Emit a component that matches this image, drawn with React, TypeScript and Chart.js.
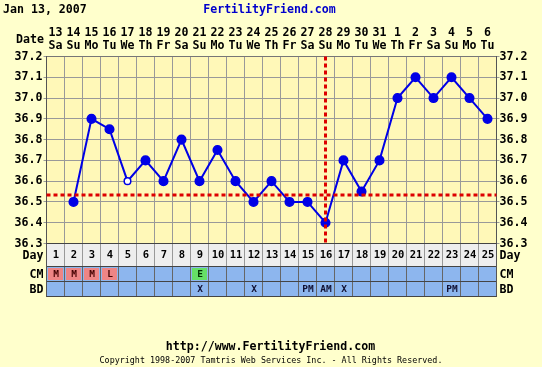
import React, { useEffect, useRef } from 'react';
import { Chart, registerables } from 'chart.js';

Chart.register(...registerables);

const headerDate = 'Jan 13, 2007';
const siteTitle = 'FertilityFriend.com';
const footerUrl = 'http://www.FertilityFriend.com';
const copyright = 'Copyright 1998-2007 Tamtris Web Services Inc. - All Rights Reserved.';

const cycleDays = ['1', '2', '3', '4', '5', '6', '7', '8', '9', '10', '11', '12', '13', '14', '15', '16', '17', '18', '19', '20', '21', '22', '23', '24', '25'];
const dates = ['13', '14', '15', '16', '17', '18', '19', '20', '21', '22', '23', '24', '25', '26', '27', '28', '29', '30', '31', '1', '2', '3', '4', '5', '6'];
const weekdays = ['Sa', 'Su', 'Mo', 'Tu', 'We', 'Th', 'Fr', 'Sa', 'Su', 'Mo', 'Tu', 'We', 'Th', 'Fr', 'Sa', 'Su', 'Mo', 'Tu', 'We', 'Th', 'Fr', 'Sa', 'Su', 'Mo', 'Tu'];
const temps: (number | null)[] = [null, 36.5, 36.9, 36.85, 36.6, 36.7, 36.6, 36.8, 36.6, 36.75, 36.6, 36.5, 36.6, 36.5, 36.5, 36.4, 36.7, 36.55, 36.7, 37.0, 37.1, 37.0, 37.1, 37.0, 36.9];
const openDays = ['5'];
const yTicks = [36.3, 36.4, 36.5, 36.6, 36.7, 36.8, 36.9, 37.0, 37.1, 37.2];
const cmValues = ['M', 'M', 'M', 'L', '', '', '', '', 'E', '', '', '', '', '', '', '', '', '', '', '', '', '', '', '', ''];
const bdValues = ['', '', '', '', '', '', '', '', 'X', '', '', 'X', '', '', 'PM', 'AM', 'X', '', '', '', '', '', 'PM', '', ''];
const coverline = 36.533;
const ovulationDay = '16';

const PAGE_BG = '#FFFFCC';
const PLOT_BG = '#FFF8B8';
const BLUE = '#0000E6';
const RED = '#DD0000';
const ROW_BLUE = '#8DB6EE';
const DAY_BG = '#EEEEEE';
const FAM = '"DejaVu Sans Mono", monospace';
const bold = (s: number) => `bold ${s}px ${FAM}`;

const rowsPlugin = {
  id: 'ffRows',
  beforeDraw(chart: any) {
    const { ctx, chartArea: a } = chart;
    ctx.save();
    ctx.fillStyle = PAGE_BG;
    ctx.fillRect(0, 0, chart.width, chart.height);
    ctx.fillStyle = PLOT_BG;
    ctx.fillRect(a.left, a.top, a.right - a.left, a.bottom - a.top);
    const dayBottom = a.bottom + 23;
    const cmBottom = dayBottom + 15;
    const bdBottom = cmBottom + 15;
    ctx.fillStyle = DAY_BG;
    ctx.fillRect(a.left, a.bottom, a.right - a.left, dayBottom - a.bottom);
    ctx.fillStyle = ROW_BLUE;
    ctx.fillRect(a.left, dayBottom, a.right - a.left, bdBottom - dayBottom);
    ctx.restore();
  },
  afterDatasetsDraw(chart: any) {
    const { ctx, chartArea: a, scales } = chart;
    ctx.save();
    ctx.strokeStyle = RED;
    ctx.lineWidth = 3;
    ctx.setLineDash([4, 3]);
    const yc = scales.y.getPixelForValue(coverline);
    ctx.beginPath();
    ctx.moveTo(a.left, yc);
    ctx.lineTo(a.right, yc);
    ctx.stroke();
    const xo = Math.round(scales.x.getPixelForValue(cycleDays.indexOf(ovulationDay))) - 0.5;
    ctx.beginPath();
    ctx.moveTo(xo, a.top);
    ctx.lineTo(xo, a.bottom);
    ctx.stroke();
    ctx.restore();
  },
  afterDraw(chart: any) {
    const { ctx, chartArea: a, scales } = chart;
    const xs = scales.x;
    const colW = (a.right - a.left) / cycleDays.length;
    const dayBottom = a.bottom + 23;
    const cmBottom = dayBottom + 15;
    const bdBottom = cmBottom + 15;
    ctx.save();
    // CM cells
    cmValues.forEach((v, i) => {
      if (!v) return;
      const cx = xs.getPixelForValue(i);
      ctx.fillStyle = v === 'E' ? '#66E066' : '#EE8585';
      ctx.fillRect(cx - colW / 2 + 1.5, dayBottom + 1.5, colW - 3, 12);
    });
    // vertical lines through rows
    for (let i = 0; i <= cycleDays.length; i++) {
      const x = Math.round(a.left + i * colW) - 0.5 + 0.5;
      const px = Math.floor(a.left + i * colW) + 0.5;
      ctx.lineWidth = 1;
      ctx.strokeStyle = '#999999';
      ctx.beginPath();
      ctx.moveTo(px, a.bottom);
      ctx.lineTo(px, dayBottom);
      ctx.stroke();
      ctx.strokeStyle = '#666666';
      ctx.beginPath();
      ctx.moveTo(px, dayBottom);
      ctx.lineTo(px, bdBottom);
      ctx.stroke();
      void x;
    }
    // horizontal separators
    ctx.strokeStyle = '#444444';
    [a.bottom, dayBottom, cmBottom, bdBottom].forEach((y) => {
      const py = Math.floor(y) + 0.5;
      ctx.beginPath();
      ctx.moveTo(Math.floor(a.left), py);
      ctx.lineTo(Math.floor(a.right) + 1, py);
      ctx.stroke();
    });
    // edges
    ctx.strokeStyle = '#555555';
    [a.left, a.right].forEach((x) => {
      const px = Math.floor(x) + 0.5;
      ctx.beginPath();
      ctx.moveTo(px, a.bottom);
      ctx.lineTo(px, bdBottom);
      ctx.stroke();
    });

    ctx.textBaseline = 'middle';
    // day numbers
    ctx.fillStyle = '#000000';
    ctx.textAlign = 'center';
    ctx.font = bold(10.5);
    cycleDays.forEach((d, i) => {
      ctx.fillText(d, xs.getPixelForValue(i) + 0.5, (a.bottom + dayBottom) / 2 + 0.5);
    });
    // CM text
    ctx.font = bold(9.5);
    cmValues.forEach((v, i) => {
      if (!v) return;
      ctx.fillStyle = v === 'E' ? '#003300' : '#440000';
      ctx.fillText(v, xs.getPixelForValue(i) + 0.5, (dayBottom + cmBottom) / 2 + 0.5);
    });
    ctx.fillStyle = '#111133';
    bdValues.forEach((v, i) => {
      if (!v) return;
      ctx.fillText(v, xs.getPixelForValue(i) + 0.5, (cmBottom + bdBottom) / 2 + 0.5);
    });
    // row labels
    ctx.fillStyle = '#000000';
    ctx.font = bold(11.6);
    const rows: [string, number][] = [
      ['Day', (a.bottom + dayBottom) / 2 + 0.5],
      ['CM', (dayBottom + cmBottom) / 2 + 0.5],
      ['BD', (cmBottom + bdBottom) / 2 + 0.5],
    ];
    rows.forEach(([t, y]) => {
      ctx.textAlign = 'right';
      ctx.fillText(t, a.left - 3, y);
      ctx.textAlign = 'left';
      ctx.fillText(t, a.right + 3, y);
    });
    // header
    ctx.textAlign = 'left';
    ctx.fillText(headerDate, 3, 10);
    ctx.textAlign = 'right';
    ctx.fillText('Date', a.left - 2.5, 39.5);
    ctx.textAlign = 'center';
    ctx.fillStyle = '#0000CC';
    ctx.fillText(siteTitle, 269.5, 10);
    ctx.fillStyle = '#000000';
    ctx.fillText(footerUrl, 270.5, 347);
    ctx.font = `${8.4}px ${FAM}`;
    ctx.fillText(copyright, 271, 361);
    ctx.restore();
  },
};

export default function App() {
  const ref = useRef<HTMLCanvasElement | null>(null);
  useEffect(() => {
    if (!ref.current) return;
    const tickFont = { family: FAM, size: 11.6, weight: 'bold' as const, lineHeight: 13 / 11.6 };
    const chart = new Chart(ref.current, {
      type: 'line',
      data: {
        labels: cycleDays,
        datasets: [
          {
            data: temps,
            borderColor: BLUE,
            borderWidth: 2,
            pointBackgroundColor: cycleDays.map((d) => (openDays.includes(d) ? '#FFFFFF' : BLUE)),
            pointBorderColor: BLUE,
            pointBorderWidth: 1.5,
            pointRadius: cycleDays.map((d) => (openDays.includes(d) ? 3.3 : 4.3)),
            tension: 0,
            spanGaps: false,
          },
        ],
      },
      options: {
        responsive: false,
        animation: false,
        events: [],
        layout: { padding: { left: 0, right: 0, top: 0, bottom: 123.5 } },
        plugins: { legend: { display: false }, tooltip: { enabled: false } },
        scales: {
          x: {
            type: 'category',
            position: 'top',
            offset: true,
            grid: { offset: true, color: '#999999', drawTicks: false },
            border: { color: '#777777' },
            ticks: {
              autoSkip: false,
              maxRotation: 0,
              padding: 4,
              color: '#000000',
              font: tickFont,
              callback: (_v: any, i: number) => [dates[i], weekdays[i]],
            },
            afterFit: (s: any) => {
              s.height = 56.5;
            },
          },
          y: {
            position: 'left',
            min: 36.3,
            max: 37.2,
            afterBuildTicks: (s: any) => {
              s.ticks = yTicks.map((v) => ({ value: v }));
            },
            grid: { color: '#999999', tickLength: 3 },
            border: { color: '#555555' },
            ticks: {
              padding: 1,
              color: '#000000',
              font: { family: FAM, size: 11.6, weight: 'bold' as const },
              callback: (v: any) => Number(v).toFixed(1),
            },
            afterFit: (s: any) => {
              s.width = 46.5;
            },
          },
          y2: {
            position: 'right',
            min: 36.3,
            max: 37.2,
            afterBuildTicks: (s: any) => {
              s.ticks = yTicks.map((v) => ({ value: v }));
            },
            grid: { color: '#999999', tickLength: 3, drawOnChartArea: false },
            border: { color: '#555555' },
            ticks: {
              padding: 0,
              color: '#000000',
              font: { family: FAM, size: 11.6, weight: 'bold' as const },
              callback: (v: any) => Number(v).toFixed(1),
            },
            afterFit: (s: any) => {
              s.width = 45.5;
            },
          },
        },
      },
      plugins: [rowsPlugin],
    });
    return () => chart.destroy();
  }, []);
  return (
    <div style={{ position: 'absolute', left: 0, top: 0, width: 542, height: 367, background: PAGE_BG }}>
      <canvas ref={ref} width={542} height={367} style={{ display: 'block' }} />
    </div>
  );
}
